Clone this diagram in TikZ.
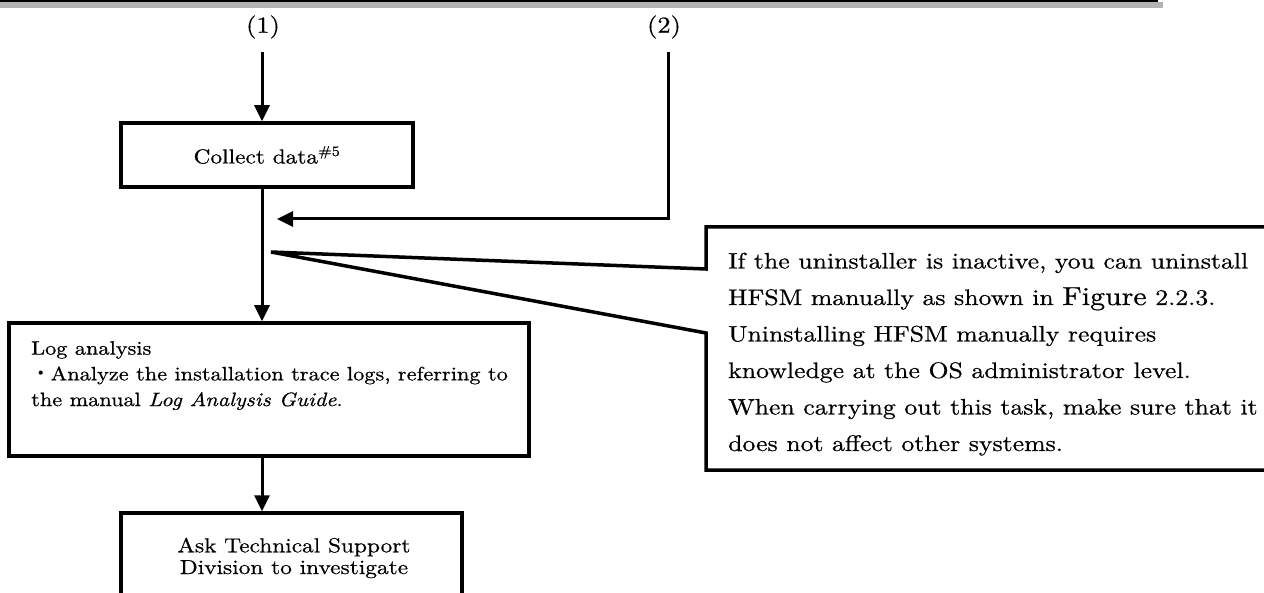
\documentclass[tikz,border=0pt]{standalone}
\usepackage{fontspec}
\setmainfont{lmroman10-regular.otf}[ItalicFont=lmroman10-italic.otf, BoldFont=lmroman10-bold.otf, FakeStretch=1.15, FakeBold=0.6]
\newfontfamily\cjk{Noto Sans CJK JP}
\usetikzlibrary{arrows.meta}
\begin{document}
\begin{tikzpicture}[x=1pt,y=-1pt,
  box/.style={draw, line width=3.5pt, rectangle, inner sep=0pt},
  conn/.style={line width=3pt, -{Triangle[length=16pt,width=15pt]}},
  outline/.style={line width=3.5pt, line join=miter},
  lbl/.style={font=\fontsize{23}{28}\selectfont, inner sep=0pt},
  txt/.style={inner sep=0pt, align=left}]
\useasboundingbox (0,0) rectangle (1264,593);
\clip (0,0) rectangle (1264,593);
% header rule
\fill[black] (0,0) rectangle (1158,2.5);
\fill[gray!60] (0,2.5) rectangle (1163,8);
% labels
\node[lbl] (l1) at (263,27) {(1)};
\node[lbl] (l2) at (664,27) {(2)};
\coordinate (s1) at (262,52);
\coordinate (s2) at (668,52);
\coordinate (t2) at (277,219);
% boxes
\node[box, minimum width=292pt, minimum height=64pt] (collect) at (267,155)
  {\fontsize{20.3}{25}\selectfont Collect data\textsuperscript{\#5}};
\node[box, minimum width=520pt, minimum height=133pt] (log) at (269,389.5) {};
\node[txt, anchor=north west, font=\fontsize{19.4}{25.7}\selectfont] (logtxt) at (31,341)
  {Log analysis\\{\cjk ・}Analyze the installation trace logs, referring to\\the manual \textit{Log Analysis Guide}.};
\node[box, minimum width=341pt, minimum height=150pt] (ask) at (291.5,588) {};
\node[inner sep=0pt, align=center, font=\fontsize{20.3}{21.7}\selectfont] (asktxt) at (294,558)
  {Ask Technical Support\\Division to investigate};
% connectors
\draw[conn] (s1) -- (s1 |- collect.north);
\draw[conn] (collect.south -| s1) -- (s1 |- log.north);
\draw[conn] (log.south -| s1) -- (s1 |- ask.north);
\draw[conn] (s2) -- (s2 |- t2) -- (t2);
% callout
\coordinate (ap) at (271,252);
\coordinate (ctr) at (1270,227);
\coordinate (ctl) at (706,227);
\coordinate (cj1) at (706,269);
\coordinate (cj2) at (706,333);
\coordinate (cbl) at (706,470);
\coordinate (cbr) at (1270,470);
\draw[outline] (ctr) -- (ctl) -- (cj1) -- (ap) -- (cj2) -- (cbl) -- (cbr);
\node[txt, anchor=north west, font=\fontsize{22.4}{36.5}\selectfont] (note) at (728,252.5)
  {If the uninstaller is inactive, you can uninstall\\
   HFSM manually as shown in {\fontsize{26}{36.5}\selectfont Figure} 2.2.3.\\
   Uninstalling HFSM manually requires\\
   knowledge at the OS administrator level.\\
   When carrying out this task, make sure that it\\
   does not affect other systems.};
\end{tikzpicture}
\end{document}
